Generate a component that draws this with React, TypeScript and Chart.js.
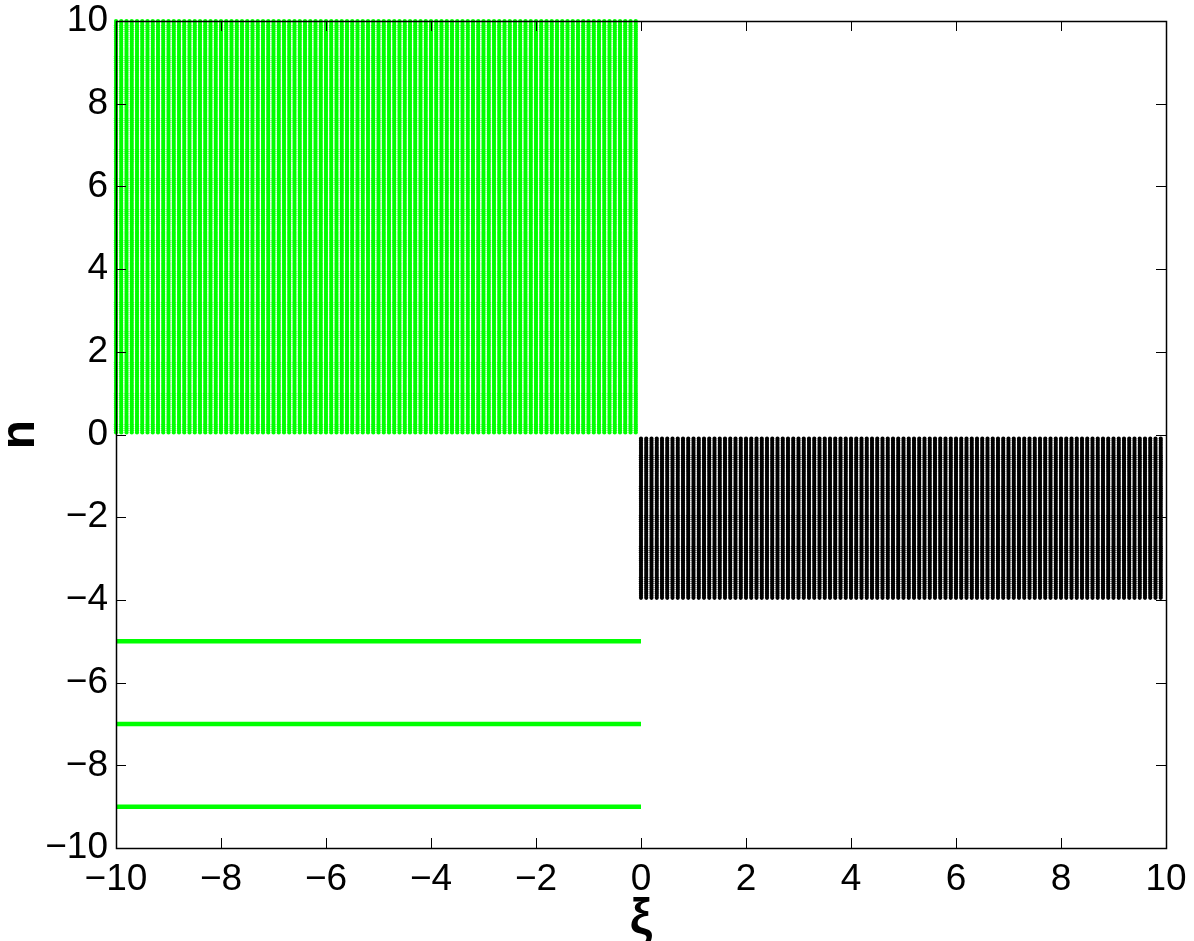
import React, { useEffect, useRef } from "react";
import { Chart, registerables } from "chart.js";

Chart.register(...registerables);

// Axis ticks
const xTicks = [-10, -8, -6, -4, -2, 0, 2, 4, 6, 8, 10];
const yTicks = [-10, -8, -6, -4, -2, 0, 2, 4, 6, 8, 10];

// Green dot region (ξ < 0, n > 0): grid columns/rows
const greenXStart = -10;
const greenXEnd = -0.1;
const greenYStart = 0.05;
const greenYEnd = 10;

// Black dot region (ξ >= 0, -4 < n < 0)
const blackXStart = 0;
const blackXEnd = 9.9;
const blackYStart = -3.95;
const blackYEnd = -0.1;

const gridStepX = 0.1;
const gridStepY = 0.05;

// Green horizontal lines
const lineLevels = [-5, -7, -9];
const lineXRange = [-10, 0];

function meshgrid(x0: number, x1: number, y0: number, y1: number) {
  const pts: { x: number; y: number }[] = [];
  const nx = Math.round((x1 - x0) / gridStepX);
  const ny = Math.round((y1 - y0) / gridStepY);
  for (let i = 0; i <= nx; i++) {
    for (let j = 0; j <= ny; j++) {
      pts.push({ x: x0 + i * gridStepX, y: y0 + j * gridStepY });
    }
  }
  return pts;
}

const fmt = (v: number) => (v < 0 ? "\u2212" + Math.abs(v) : String(v));

const framePlugin = {
  id: "frameTicks",
  afterDraw(chart: any) {
    const { ctx, chartArea: a, scales } = chart;
    const xs = scales.x;
    const ys = scales.y;
    const L = 10;
    ctx.save();
    ctx.strokeStyle = "#000";
    ctx.lineWidth = 1;
    ctx.beginPath();
    for (const t of xTicks) {
      const px = Math.round(xs.getPixelForValue(t)) + 0.5;
      ctx.moveTo(px, a.bottom);
      ctx.lineTo(px, a.bottom - L);
      ctx.moveTo(px, a.top);
      ctx.lineTo(px, a.top + L);
    }
    for (const t of yTicks) {
      const py = Math.round(ys.getPixelForValue(t)) + 0.5;
      ctx.moveTo(a.left, py);
      ctx.lineTo(a.left + L, py);
      ctx.moveTo(a.right, py);
      ctx.lineTo(a.right - L, py);
    }
    ctx.stroke();
    ctx.lineWidth = 1.5;
    ctx.strokeRect(
      Math.round(a.left) + 0.5,
      Math.round(a.top) + 0.5,
      Math.round(a.right - a.left),
      Math.round(a.bottom - a.top)
    );
    ctx.restore();
  },
};

export default function App() {
  const ref = useRef<HTMLCanvasElement>(null);
  useEffect(() => {
    document.body.style.margin = "0";
    const green = meshgrid(greenXStart, greenXEnd, greenYStart, greenYEnd);
    const black = meshgrid(blackXStart, blackXEnd, blackYStart, blackYEnd);
    const lineSets = lineLevels.map((lv) => ({
      type: "line" as const,
      data: [
        { x: lineXRange[0], y: lv },
        { x: lineXRange[1], y: lv },
      ],
      borderColor: "#00ff00",
      borderWidth: 4.5,
      pointRadius: 0,
      borderCapStyle: "butt" as const,
      showLine: true,
      clip: false as any,
    }));
    const chart = new Chart(ref.current!, {
      type: "scatter",
      data: {
        datasets: [
          {
            data: green,
            pointRadius: 2.1,
            pointBorderWidth: 0,
            backgroundColor: "#00ff00",
            clip: false as any,
          },
          {
            data: black,
            pointRadius: 2.1,
            pointBorderWidth: 0,
            backgroundColor: "#000000",
            clip: false as any,
          },
          ...lineSets,
        ] as any,
      },
      options: {
        responsive: false,
        animation: false,
        events: [],
        layout: { padding: { top: 21, right: 28, left: 0, bottom: 0 } },
        plugins: { legend: { display: false }, tooltip: { enabled: false } },
        scales: {
          x: {
            type: "linear",
            min: -10,
            max: 10,
            afterBuildTicks: (s: any) => {
              s.ticks = xTicks.map((v) => ({ value: v }));
            },
            afterFit: (s: any) => {
              s.height = 93;
              s.paddingLeft = 0;
              s.paddingRight = 0;
            },
            grid: { display: false, drawTicks: false },
            border: { display: false },
            ticks: {
              callback: (v: any) => fmt(Number(v)),
              color: "#000",
              font: { family: "'Liberation Sans', Arial, sans-serif", size: 37 },
              padding: 10,
              maxRotation: 0,
              autoSkip: false,
            },
            title: {
              display: true,
              text: "ξ",
              color: "#000",
              font: { family: "'Liberation Sans', Arial, sans-serif", size: 50, weight: "bold", lineHeight: 1 },
              padding: { top: 0, bottom: -3 },
            },
          },
          y: {
            type: "linear",
            min: -10,
            max: 10,
            afterBuildTicks: (s: any) => {
              s.ticks = yTicks.map((v) => ({ value: v }));
            },
            afterFit: (s: any) => {
              s.width = 116;
              s.paddingTop = 0;
              s.paddingBottom = 0;
            },
            grid: { display: false, drawTicks: false },
            border: { display: false },
            ticks: {
              callback: (v: any) => fmt(Number(v)),
              color: "#000",
              font: { family: "'Liberation Sans', Arial, sans-serif", size: 37 },
              padding: 8,
              autoSkip: false,
            },
            title: {
              display: true,
              text: "n",
              color: "#000",
              font: { family: "'Liberation Sans', Arial, sans-serif", size: 48, weight: "bold", lineHeight: 1 },
              padding: { top: -3, bottom: 0 },
            },
          },
        },
      },
      plugins: [framePlugin],
    });
    return () => chart.destroy();
  }, []);
  return <canvas ref={ref} width={1194} height={941} style={{ display: "block" }} />;
}
